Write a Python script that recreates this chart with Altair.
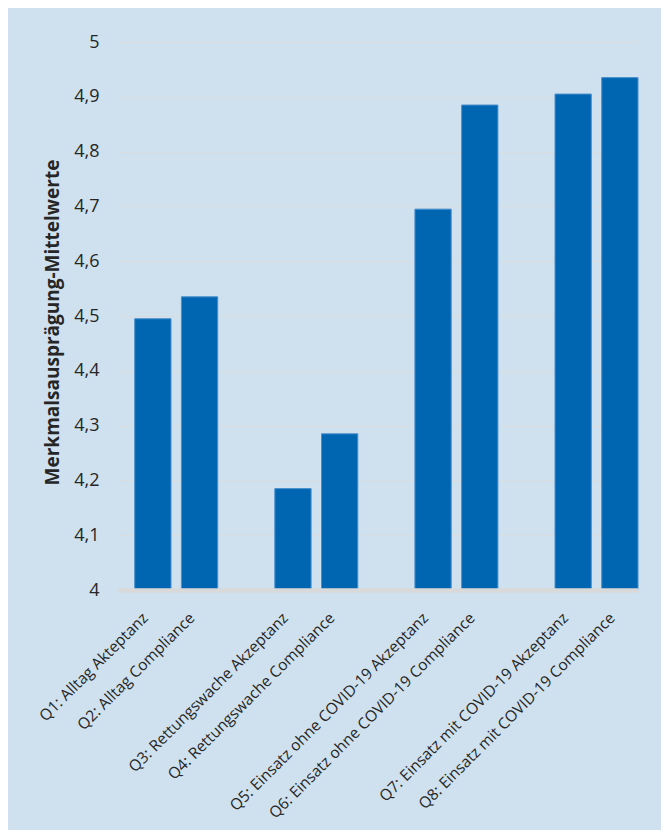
import altair as alt
import pandas as pd

# ---- data ----
categories = [
    "Q1: Alltag Akteptanz",
    "Q2: Alltag Compliance",
    "Q3: Rettungswache Akzeptanz",
    "Q4: Rettungswache Compliance",
    "Q5: Einsatz ohne COVID-19 Akzeptanz",
    "Q6: Einsatz ohne COVID-19 Compliance",
    "Q7: Einsatz mit COVID-19 Akzeptanz",
    "Q8: Einsatz mit COVID-19 Compliance",
]
values = [4.495, 4.535, 4.185, 4.285, 4.695, 4.885, 4.905, 4.935]

# category order on the axis, with empty slots between the pairs
axis_order = [
    categories[0], categories[1], " ",
    categories[2], categories[3], "  ",
    categories[4], categories[5], "   ",
    categories[6], categories[7],
]
y_ticks = [4.0, 4.1, 4.2, 4.3, 4.4, 4.5, 4.6, 4.7, 4.8, 4.9, 5.0]

df = pd.DataFrame({"cat": categories, "val": values})

FONT = "Open Sans"
TXT = "#262626"

chart = (
    alt.Chart(df)
    .mark_bar(color="#0066b2", stroke="#4a8fcc", strokeWidth=1)
    .encode(
        x=alt.X(
            "cat:N",
            sort=axis_order,
            scale=alt.Scale(domain=axis_order, paddingInner=0.223, paddingOuter=0.179, align=1),
            axis=alt.Axis(
                title=None,
                domain=True,
                domainColor="#d9d9d9",
                domainWidth=4.5,
                ticks=False,
                tickSize=0,
                grid=False,
                labelAngle=315,
                labelAlign="right",
                labelBaseline="middle",
                labelPadding=25,
                labelOffset=-7.5,
                labelFont=FONT,
                labelFontSize=15.5,
                labelColor=TXT,
                labelLimit=400,
                zindex=1,
            ),
        ),
        y=alt.Y(
            "val:Q",
            scale=alt.Scale(domain=[4, 5], zero=False, nice=False),
            axis=alt.Axis(
                title="Merkmalsausprägung-Mittelwerte",
                titleFont=FONT,
                titleFontSize=19,
                titleFontWeight="bold",
                titleColor=TXT,
                titleAngle=270,
                titleX=-60,
                titleY=280,
                titleAlign="center",
                titleBaseline="alphabetic",
                values=y_ticks,
                labelExpr="replace(format(datum.value, '.1~f'), '.', ',')",
                labelFont=FONT,
                labelFontSize=18,
                labelColor=TXT,
                labelPadding=19,
                domain=False,
                ticks=False,
                tickSize=0,
                grid=True,
                gridColor="#d9dcdf",
                gridWidth=1,
                zindex=0,
            ),
        ),
        y2=alt.datum(4),
    )
    .properties(
        width=520,
        height=548,
        background="#cfe1ee",
        autosize=alt.AutoSizeParams(type="none"),
        padding={"left": 110, "top": 34, "right": 23, "bottom": 240},
    )
    .configure_view(stroke=None)
)

chart.save("out.html", embed_options={"renderer": "svg", "actions": False})
